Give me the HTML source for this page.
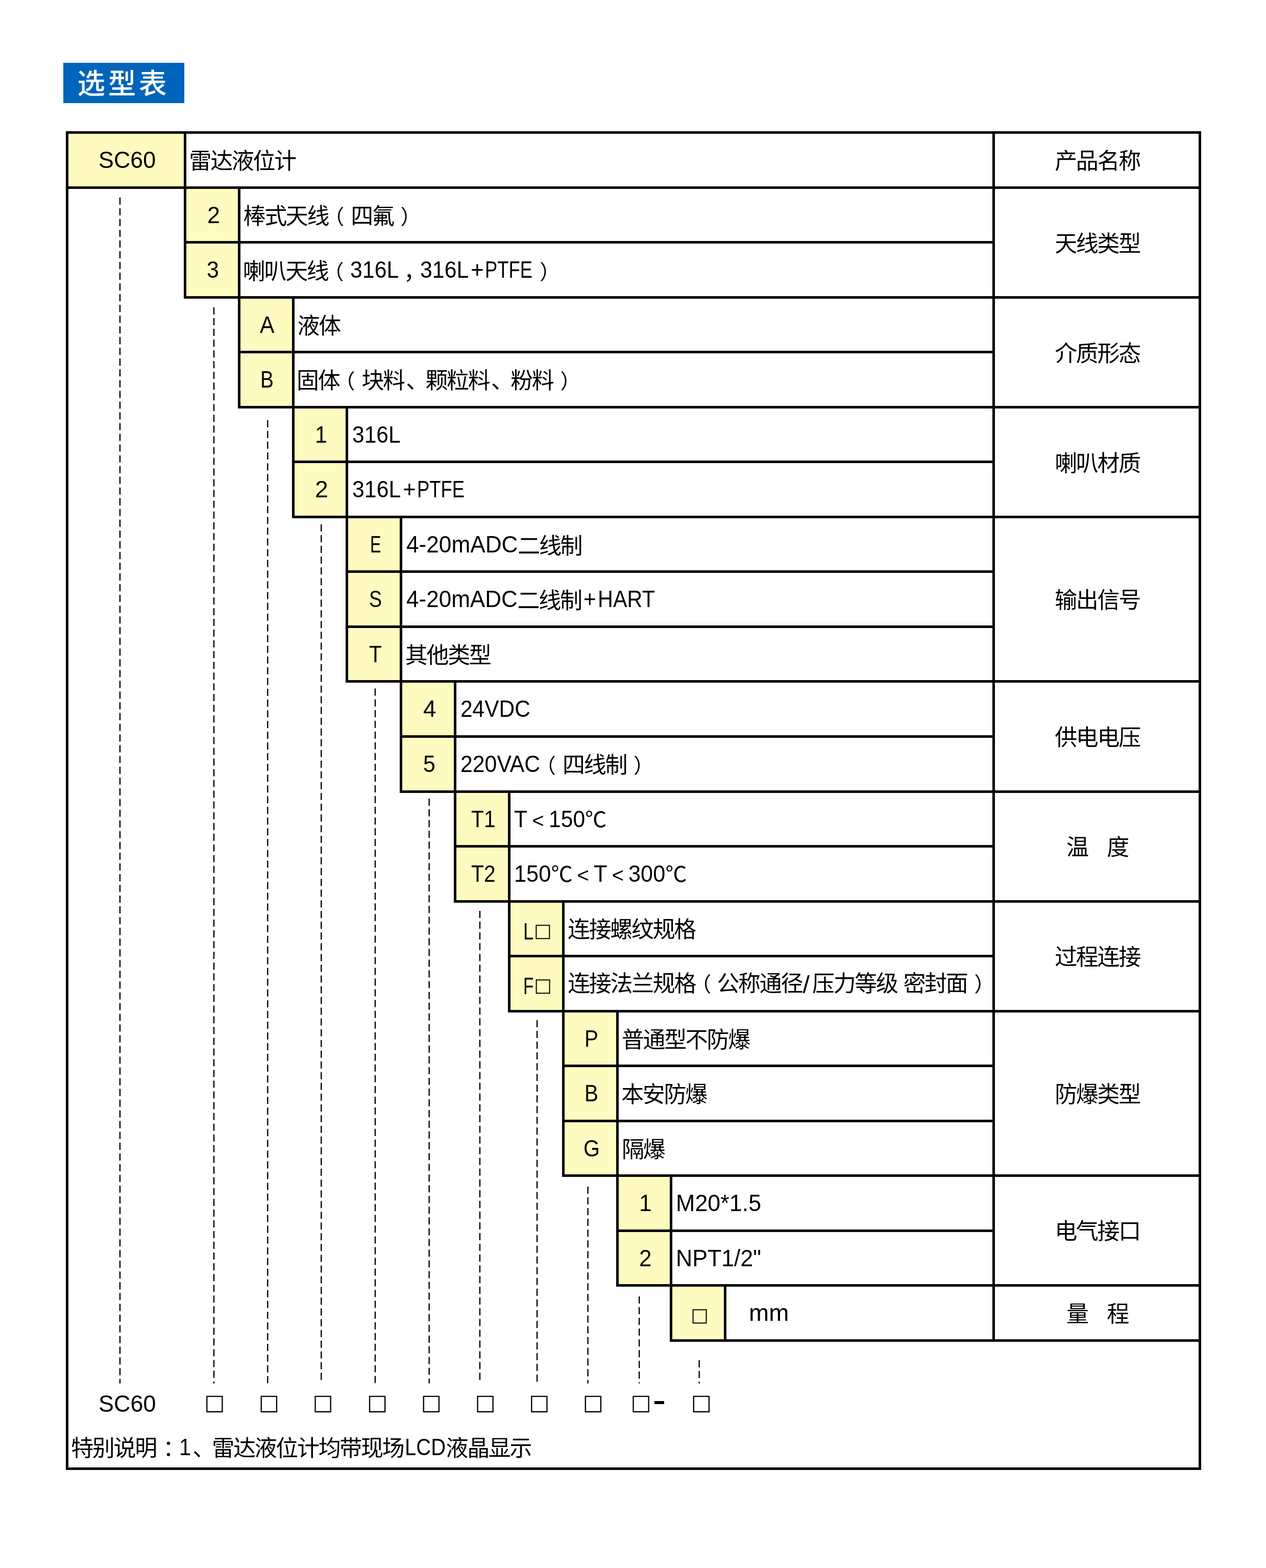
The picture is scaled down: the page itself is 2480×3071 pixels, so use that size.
<!DOCTYPE html>
<html lang="zh-CN">
<head>
<meta charset="utf-8">
<title>选型表</title>
<style>
html,body{margin:0;padding:0;background:#fff}
body{width:2480px;height:3071px;position:relative;overflow:hidden;color:#000;
 font-family:"Liberation Sans","Noto Sans CJK SC",sans-serif;font-size:44px;letter-spacing:-2.33px}
div,span{box-sizing:border-box}
.title{position:absolute;left:124px;top:123px;width:237px;height:79px;background:#0064ba;color:#fff;
 font-size:54.5px;letter-spacing:5.7px;line-height:79px;white-space:nowrap;font-weight:500}
.title span{position:absolute;left:27.5px;top:2px}
.frame,.cell,.code{position:absolute;border:5px solid #000}
.code{background:#fffbc0}
.t{position:absolute;white-space:nowrap;height:108px;line-height:108px}
.c{text-align:center}
.l{display:inline-block;letter-spacing:0;font-size:46.5px;position:relative;top:-2.3px;transform-origin:0 50%}
.sl{font-size:49px;padding:0 4.8px 0 1.5px;top:3.2px}
.po,.pc{display:inline-block;font-size:40px;letter-spacing:0;position:relative}
.po{width:44px}.pc{width:39.3px}
.co,.cm,.dn{position:relative}
.po{left:-9px}.pc{left:14px}.co{left:13px}.cm{left:9px}.dn{left:3.5px}
.lt{display:inline-block;width:41.67px;text-align:center;font-size:40px;letter-spacing:0;position:relative;top:-1.5px}
.gp{letter-spacing:-6.3px}
.dc{font-size:42px;letter-spacing:-0.33px;position:relative;top:-2.5px}
.l+.sq{margin-left:1.5px}
.sq{font-family:"DejaVu Sans",sans-serif;font-size:36.8px;letter-spacing:0;position:relative;top:-7.5px}
.box{position:absolute;font-family:"DejaVu Sans",sans-serif;font-size:42.6px;letter-spacing:0;line-height:60px;height:60px;width:60px;text-align:center;white-space:nowrap}
.hy{position:absolute;font-weight:bold;font-size:50px;letter-spacing:0;line-height:60px;height:60px;white-space:nowrap;transform:scaleX(1.5);transform-origin:0 50%}
</style>
</head>
<body>
<div class="title"><span>选型表</span></div>
<div class="frame" style="left:129px;top:257px;width:2224px;height:2622px"></div>
<div class="cell" style="left:1944px;top:257px;width:409px;height:113px"></div><div class="t c" style="left:1945px;top:259.3px;width:409px;height:113px;line-height:113px">产品名称</div>
<div class="cell" style="left:360px;top:257px;width:1589px;height:113px"></div><div class="code" style="left:129px;top:257px;width:236px;height:113px"></div><div class="t c" style="left:130.7px;top:261.5px;width:236px"><span class="l" style="transform:scaleX(0.964);margin-right:-4.19px">SC60</span></div><div class="t" style="left:370.5px;top:261.5px">雷达液位计</div>
<div class="cell" style="left:1944px;top:365px;width:409px;height:220px"></div><div class="t c" style="left:1945px;top:368.3px;width:409px;height:220px;line-height:220px">天线类型</div>
<div class="cell" style="left:466px;top:365px;width:1483px;height:112px"></div><div class="code" style="left:360px;top:365px;width:111px;height:112px"></div><div class="t c" style="left:362.8px;top:369.5px;width:111px"><span class="l" style="transform:scaleX(0.970);margin-right:-0.78px">2</span></div><div class="t" style="left:476.5px;top:369.5px">棒式天线<span class="po">（</span>四氟<span class="pc">）</span></div>
<div class="cell" style="left:466px;top:472px;width:1483px;height:113px"></div><div class="code" style="left:360px;top:472px;width:111px;height:113px"></div><div class="t c" style="left:361.5px;top:476.5px;width:111px"><span class="l" style="transform:scaleX(0.922);margin-right:-2.02px">3</span></div><div class="t" style="left:475.8px;top:476.5px">喇叭天线<span class="po">（</span><span class="l" style="transform:scaleX(0.921);margin-right:-8.17px">316L</span><span class="cm">，</span><span class="l" style="transform:scaleX(0.921);margin-right:-8.17px">316L</span><span class="l" style="transform:scaleX(0.950);margin-right:-1.36px;margin-left:3.2px">+</span><span class="l" style="transform:scaleX(0.783);margin-right:-25.79px;margin-left:2.4px">PTFE</span><span class="pc">）</span></div>
<div class="cell" style="left:1944px;top:580px;width:409px;height:220px"></div><div class="t c" style="left:1945px;top:582.8px;width:409px;height:220px;line-height:220px">介质形态</div>
<div class="cell" style="left:572px;top:580px;width:1377px;height:112px"></div><div class="code" style="left:466px;top:580px;width:111px;height:112px"></div><div class="t c" style="left:467.8px;top:584.5px;width:111px"><span class="l" style="transform:scaleX(0.919);margin-right:-2.51px">A</span></div><div class="t" style="left:582.5px;top:584.5px">液体</div>
<div class="cell" style="left:572px;top:687px;width:1377px;height:113px"></div><div class="code" style="left:466px;top:687px;width:111px;height:113px"></div><div class="t c" style="left:467.5px;top:691.5px;width:111px"><span class="l" style="transform:scaleX(0.839);margin-right:-4.99px">B</span></div><div class="t" style="left:581.1px;top:691.5px">固体<span class="po">（</span>块料<span class="dn">、</span>颗粒料<span class="dn">、</span>粉料<span class="pc">）</span></div>
<div class="cell" style="left:1944px;top:795px;width:409px;height:220px"></div><div class="t c" style="left:1945px;top:797.8px;width:409px;height:220px;line-height:220px">喇叭材质</div>
<div class="cell" style="left:677px;top:795px;width:1272px;height:112px"></div><div class="code" style="left:572px;top:795px;width:110px;height:112px"></div><div class="t c" style="left:574px;top:799.5px;width:110px"><span class="l" style="transform:scaleX(0.922);margin-right:-2.02px">1</span></div><div class="t" style="left:690.3px;top:799.5px"><span class="l" style="transform:scaleX(0.915);margin-right:-8.79px">316L</span></div>
<div class="cell" style="left:677px;top:902px;width:1272px;height:113px"></div><div class="code" style="left:572px;top:902px;width:110px;height:113px"></div><div class="t c" style="left:575px;top:906.5px;width:110px"><span class="l">2</span></div><div class="t" style="left:690.3px;top:906.5px"><span class="l" style="transform:scaleX(0.921);margin-right:-8.17px">316L</span><span class="l" style="transform:scaleX(0.950);margin-right:-1.36px;margin-left:3.2px">+</span><span class="l" style="transform:scaleX(0.783);margin-right:-25.79px;margin-left:2.4px">PTFE</span></div>
<div class="cell" style="left:1944px;top:1010px;width:409px;height:327px"></div><div class="t c" style="left:1945px;top:1012.3px;width:409px;height:327px;line-height:327px">输出信号</div>
<div class="cell" style="left:783px;top:1010px;width:1166px;height:112px"></div><div class="code" style="left:677px;top:1010px;width:111px;height:112px"></div><div class="t c" style="left:679.8px;top:1014.5px;width:111px"><span class="l" style="transform:scaleX(0.694);margin-right:-9.49px">E</span></div><div class="t" style="left:795.8px;top:1014.5px"><span class="l" style="transform:scaleX(0.950);margin-right:-11.50px">4-20mADC</span>二线制</div>
<div class="cell" style="left:783px;top:1117px;width:1166px;height:113px"></div><div class="code" style="left:677px;top:1117px;width:111px;height:113px"></div><div class="t c" style="left:680px;top:1121.5px;width:111px"><span class="l" style="transform:scaleX(0.807);margin-right:-5.99px">S</span></div><div class="t" style="left:795.8px;top:1121.5px"><span class="l" style="transform:scaleX(0.947);margin-right:-12.19px">4-20mADC</span>二线制<span class="l" style="transform:scaleX(0.910);margin-right:-2.44px;margin-left:4px">+</span><span class="l" style="transform:scaleX(0.890);margin-right:-13.83px;margin-left:3.5px">HART</span></div>
<div class="cell" style="left:783px;top:1225px;width:1166px;height:112px"></div><div class="code" style="left:677px;top:1225px;width:111px;height:112px"></div><div class="t c" style="left:680.2px;top:1229.5px;width:111px"><span class="l" style="transform:scaleX(0.878);margin-right:-3.47px">T</span></div><div class="t" style="left:793.8px;top:1229.5px">其他类型</div>
<div class="cell" style="left:1944px;top:1332px;width:409px;height:221px"></div><div class="t c" style="left:1945px;top:1334.05px;width:409px;height:221px;line-height:221px">供电电压</div>
<div class="cell" style="left:889px;top:1332px;width:1060px;height:113px"></div><div class="code" style="left:783px;top:1332px;width:111px;height:113px"></div><div class="t c" style="left:785.9px;top:1336.5px;width:111px"><span class="l" style="transform:scaleX(0.981);margin-right:-0.49px">4</span></div><div class="t" style="left:901.9px;top:1336.5px"><span class="l" style="transform:scaleX(0.913);margin-right:-13.04px">24VDC</span></div>
<div class="cell" style="left:889px;top:1440px;width:1060px;height:113px"></div><div class="code" style="left:783px;top:1440px;width:111px;height:113px"></div><div class="t c" style="left:785px;top:1444.5px;width:111px"><span class="l" style="transform:scaleX(0.922);margin-right:-2.02px">5</span></div><div class="t" style="left:901.9px;top:1443.5px"><span class="l" style="transform:scaleX(0.920);margin-right:-13.58px;top:-1.3px">220VAC</span><span class="po">（</span>四线制<span class="pc">）</span></div>
<div class="cell" style="left:1944px;top:1548px;width:409px;height:220px"></div><div class="t c" style="left:1945px;top:1550.05px;width:409px;height:220px;line-height:220px">温<span class="gp">　</span>度</div>
<div class="cell" style="left:995px;top:1548px;width:954px;height:112px"></div><div class="code" style="left:889px;top:1548px;width:111px;height:112px"></div><div class="t c" style="left:891px;top:1552.5px;width:111px"><span class="l" style="transform:scaleX(0.878);margin-right:-6.62px">T1</span></div><div class="t" style="left:1007.4px;top:1552.5px"><span class="l" style="transform:scaleX(0.916);margin-right:-2.39px">T</span><span class="lt">&lt;</span><span class="l" style="transform:scaleX(0.916);margin-right:-6.52px">150</span><span class="dc">℃</span></div>
<div class="cell" style="left:995px;top:1655px;width:954px;height:113px"></div><div class="code" style="left:889px;top:1655px;width:111px;height:113px"></div><div class="t c" style="left:891px;top:1659.5px;width:111px"><span class="l" style="transform:scaleX(0.878);margin-right:-6.62px">T2</span></div><div class="t" style="left:1007.4px;top:1659.5px"><span class="l" style="transform:scaleX(0.932);margin-right:-5.28px">150</span><span class="dc">℃</span><span class="lt">&lt;</span><span class="l" style="transform:scaleX(0.932);margin-right:-1.93px">T</span><span class="lt">&lt;</span><span class="l" style="transform:scaleX(0.932);margin-right:-5.28px">300</span><span class="dc">℃</span></div>
<div class="cell" style="left:1944px;top:1763px;width:409px;height:220px"></div><div class="t c" style="left:1945px;top:1764.55px;width:409px;height:220px;line-height:220px">过程连接</div>
<div class="cell" style="left:1101px;top:1763px;width:848px;height:112px"></div><div class="code" style="left:995px;top:1763px;width:111px;height:112px"></div><div class="t c" style="left:997.4px;top:1772.5px;width:111px"><span class="l" style="transform:scaleX(0.780);margin-right:-5.69px">L</span><span class="sq">□</span></div><div class="t" style="left:1112px;top:1766.5px">连接螺纹规格</div>
<div class="cell" style="left:1101px;top:1870px;width:848px;height:113px"></div><div class="code" style="left:995px;top:1870px;width:111px;height:113px"></div><div class="t c" style="left:997.4px;top:1879.5px;width:111px"><span class="l" style="transform:scaleX(0.720);margin-right:-7.95px">F</span><span class="sq">□</span></div><div class="t" style="left:1112.2px;top:1871px;word-spacing:1.8px">连接法兰规格<span class="po" style="width:42.2px">（</span>公称通径<span class="l sl">/</span>压力等级 密封面<span class="pc">）</span></div>
<div class="cell" style="left:1944px;top:1978px;width:409px;height:327px"></div><div class="t c" style="left:1945px;top:1979.55px;width:409px;height:327px;line-height:327px">防爆类型</div>
<div class="cell" style="left:1207px;top:1978px;width:742px;height:112px"></div><div class="code" style="left:1101px;top:1978px;width:111px;height:112px"></div><div class="t c" style="left:1103.2px;top:1982.5px;width:111px"><span class="l" style="transform:scaleX(0.867);margin-right:-4.13px">P</span></div><div class="t" style="left:1217.8px;top:1982.5px">普通型不防爆</div>
<div class="cell" style="left:1207px;top:2085px;width:742px;height:113px"></div><div class="code" style="left:1101px;top:2085px;width:111px;height:113px"></div><div class="t c" style="left:1103.2px;top:2089.5px;width:111px"><span class="l" style="transform:scaleX(0.868);margin-right:-4.09px">B</span></div><div class="t" style="left:1217.2px;top:2089.5px">本安防爆</div>
<div class="cell" style="left:1207px;top:2193px;width:742px;height:112px"></div><div class="code" style="left:1101px;top:2193px;width:111px;height:112px"></div><div class="t c" style="left:1103.1px;top:2197.5px;width:111px"><span class="l" style="transform:scaleX(0.884);margin-right:-4.20px">G</span></div><div class="t" style="left:1218.1px;top:2197.5px">隔爆</div>
<div class="cell" style="left:1944px;top:2300px;width:409px;height:220px"></div><div class="t c" style="left:1945px;top:2301.8px;width:409px;height:220px;line-height:220px">电气接口</div>
<div class="cell" style="left:1312px;top:2300px;width:637px;height:113px"></div><div class="code" style="left:1207px;top:2300px;width:110px;height:113px"></div><div class="t c" style="left:1208.8px;top:2304.5px;width:110px"><span class="l" style="transform:scaleX(0.950);margin-right:-1.29px">1</span></div><div class="t" style="left:1324.2px;top:2304.5px"><span class="l" style="transform:scaleX(0.965);margin-right:-6.06px">M20*1.5</span></div>
<div class="cell" style="left:1312px;top:2408px;width:637px;height:112px"></div><div class="code" style="left:1207px;top:2408px;width:110px;height:112px"></div><div class="t c" style="left:1209.3px;top:2412.5px;width:110px"><span class="l" style="transform:scaleX(0.950);margin-right:-1.29px">2</span></div><div class="t" style="left:1324.2px;top:2412.5px"><span class="l" style="transform:scaleX(0.960);margin-right:-6.97px">NPT1/2&quot;</span></div>
<div class="cell" style="left:1944px;top:2515px;width:409px;height:113px"></div><div class="t c" style="left:1945px;top:2516.8px;width:409px;height:113px;line-height:113px">量<span class="gp">　</span>程</div>
<div class="cell" style="left:1418px;top:2515px;width:531px;height:113px"></div><div class="code" style="left:1312px;top:2515px;width:111px;height:113px"></div><div class="t c" style="left:1315.5px;top:2526.5px;width:111px"><span class="sq">□</span></div><div class="t" style="left:1466.9px;top:2519.5px"><span class="l" style="transform:scaleX(1.011);margin-right:0.85px">mm</span></div>
<svg class="leaders" width="2480" height="3071" viewBox="0 0 2480 3071" style="position:absolute;left:0;top:0" fill="none" stroke="#000" stroke-width="2.4" stroke-dasharray="14 7.035"><line x1="235" y1="386.8" x2="235" y2="2709.5"/><line x1="419" y1="602" x2="419" y2="2709.5"/><line x1="524.3" y1="823" x2="524.3" y2="2709.5"/><line x1="629.3" y1="1027" x2="629.3" y2="2709.5"/><line x1="735" y1="1348.6" x2="735" y2="2709.5"/><line x1="840.7" y1="1564" x2="840.7" y2="2709.5"/><line x1="940" y1="1784" x2="940" y2="2709.5"/><line x1="1052.1" y1="1998" x2="1052.1" y2="2709.5"/><line x1="1151.6" y1="2324" x2="1151.6" y2="2709.5"/><line x1="1252.2" y1="2539" x2="1252.2" y2="2709.5"/><line x1="1369.7" y1="2664" x2="1369.7" y2="2709.5"/></svg>
<div class="t" style="left:192.8px;top:2697.2px"><span class="l" style="transform:scaleX(0.966);margin-right:-3.96px">SC60</span></div><div class="box" style="left:390.4px;top:2716px">□</div><div class="box" style="left:496.9px;top:2716px">□</div><div class="box" style="left:602.7px;top:2716px">□</div><div class="box" style="left:709.2px;top:2716px">□</div><div class="box" style="left:814.9px;top:2716px">□</div><div class="box" style="left:920.6px;top:2716px">□</div><div class="box" style="left:1026.3px;top:2716px">□</div><div class="box" style="left:1131.9px;top:2716px">□</div><div class="box" style="left:1225.5px;top:2716px">□</div><div class="hy" style="left:1278.8px;top:2713.4px">-</div><div class="box" style="left:1343.9px;top:2716px">□</div>
<div class="t" style="left:139.2px;top:2782px">特别说明<span class="co">：</span><span class="l" style="transform:scaleX(0.893);margin-right:-2.77px;margin-left:3px">1</span><span class="dn">、</span>雷达液位计均带现场<span class="l" style="transform:scaleX(0.861);margin-right:-12.93px;margin-left:3px">LCD</span>液晶显示</div>
</body>
</html>
